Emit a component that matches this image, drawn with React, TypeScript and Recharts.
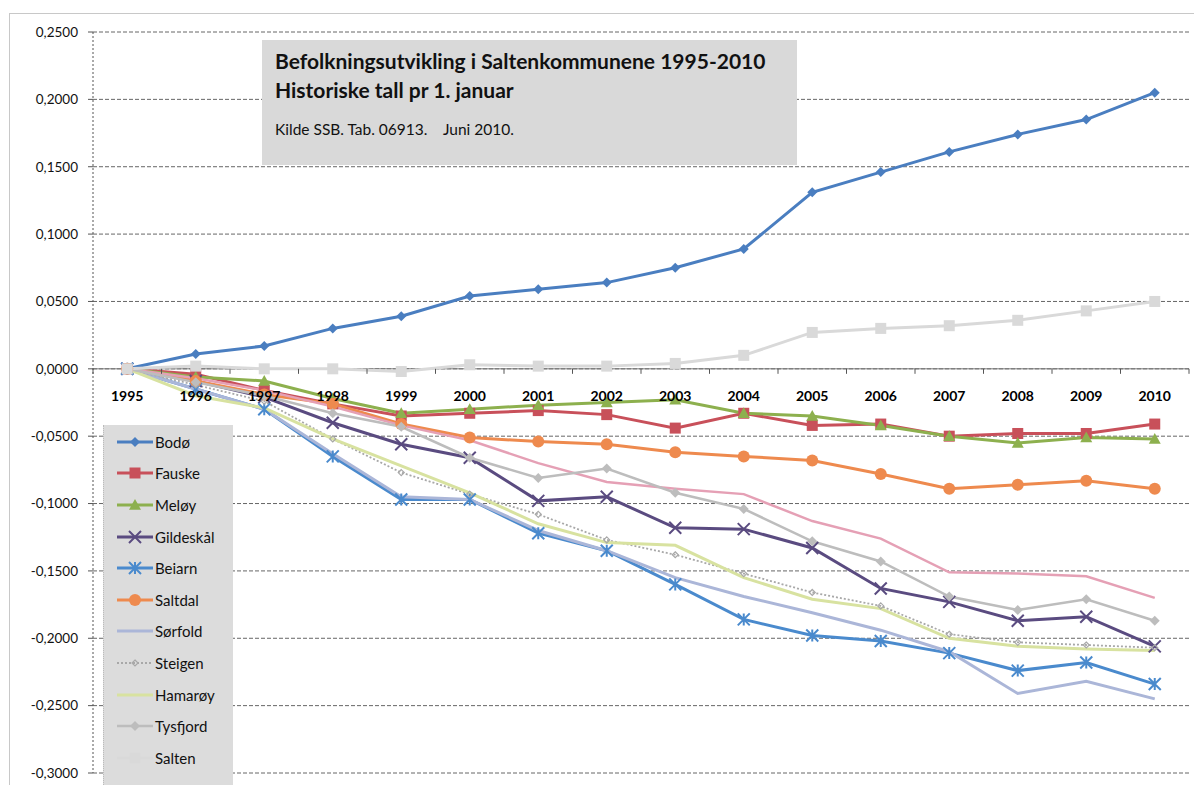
import React from "react";
import { LineChart, Line, XAxis, YAxis, CartesianGrid, ReferenceLine } from "recharts";

const years = ["1995", "1996", "1997", "1998", "1999", "2000", "2001", "2002", "2003", "2004", "2005", "2006", "2007", "2008", "2009", "2010"];

const bodo = [0, 0.011, 0.017, 0.03, 0.039, 0.054, 0.059, 0.064, 0.075, 0.089, 0.131, 0.146, 0.161, 0.174, 0.185, 0.205];
const fauske = [0, -0.004, -0.016, -0.026, -0.035, -0.033, -0.031, -0.034, -0.044, -0.033, -0.042, -0.041, -0.05, -0.048, -0.048, -0.041];
const meloy = [0, -0.006, -0.009, -0.022, -0.033, -0.03, -0.027, -0.025, -0.023, -0.033, -0.035, -0.042, -0.05, -0.055, -0.051, -0.052];
const gildeskal = [0, -0.009, -0.021, -0.04, -0.056, -0.066, -0.098, -0.095, -0.118, -0.119, -0.133, -0.163, -0.173, -0.187, -0.184, -0.206];
const beiarn = [0, -0.015, -0.03, -0.065, -0.097, -0.097, -0.122, -0.135, -0.16, -0.186, -0.198, -0.202, -0.211, -0.224, -0.218, -0.234];
const saltdal = [0, -0.009, -0.019, -0.026, -0.041, -0.051, -0.054, -0.056, -0.062, -0.065, -0.068, -0.078, -0.089, -0.086, -0.083, -0.089];
const sorfold = [0, -0.015, -0.03, -0.063, -0.095, -0.097, -0.12, -0.135, -0.155, -0.169, -0.181, -0.194, -0.21, -0.241, -0.232, -0.245];
const steigen = [0, -0.012, -0.024, -0.052, -0.077, -0.093, -0.108, -0.127, -0.138, -0.152, -0.166, -0.176, -0.197, -0.203, -0.205, -0.207];
const hamaroy = [0, -0.02, -0.029, -0.052, -0.072, -0.092, -0.115, -0.129, -0.131, -0.155, -0.171, -0.178, -0.2, -0.206, -0.208, -0.209];
const tysfjord = [0, -0.01, -0.02, -0.033, -0.043, -0.066, -0.081, -0.074, -0.092, -0.104, -0.128, -0.143, -0.169, -0.179, -0.171, -0.187];
const salten = [0, 0.002, 0, 0, -0.002, 0.003, 0.002, 0.002, 0.004, 0.01, 0.027, 0.03, 0.032, 0.036, 0.043, 0.05];
// pink line in the picture, no entry visible in the legend
const umerket = [0, -0.007, -0.016, -0.028, -0.042, -0.053, -0.07, -0.084, -0.089, -0.093, -0.113, -0.126, -0.151, -0.152, -0.154, -0.17];

const yTicks = [-0.3, -0.25, -0.2, -0.15, -0.1, -0.05, 0, 0.05, 0.1, 0.15, 0.2, 0.25];

const series = [
  { key: "bodo", name: "Bodø", values: bodo, color: "#4a7ec0", width: 3, marker: "diamond", size: 5 },
  { key: "fauske", name: "Fauske", values: fauske, color: "#c8505a", width: 3, marker: "square", size: 5.5 },
  { key: "meloy", name: "Meløy", values: meloy, color: "#8db04e", width: 3, marker: "triangle", size: 6 },
  { key: "gildeskal", name: "Gildeskål", values: gildeskal, color: "#5a4b80", width: 3, marker: "x", size: 6 },
  { key: "beiarn", name: "Beiarn", values: beiarn, color: "#4a8acd", width: 3, marker: "star", size: 6 },
  { key: "saltdal", name: "Saltdal", values: saltdal, color: "#ee8a4e", width: 3, marker: "circle", size: 6 },
  { key: "sorfold", name: "Sørfold", values: sorfold, color: "#abb6d8", width: 3, marker: "none", size: 0 },
  { key: "steigen", name: "Steigen", values: steigen, color: "#a8a8a8", width: 1.8, dash: "2 2", marker: "smalldiamond", size: 3 },
  { key: "hamaroy", name: "Hamarøy", values: hamaroy, color: "#d8e2a0", width: 3, marker: "none", size: 0 },
  { key: "tysfjord", name: "Tysfjord", values: tysfjord, color: "#bdbdbd", width: 2.5, marker: "diamond", size: 5 },
  { key: "salten", name: "Salten", values: salten, color: "#d9d9d9", width: 3, marker: "square", size: 5.5 },
];
const extraLine = { key: "umerket", name: "", values: umerket, color: "#e5a0b5", width: 2.5, marker: "none", size: 0 };

const data = years.map((year, i) => {
  const row: any = { year };
  [...series, extraLine].forEach((s) => (row[s.key] = s.values[i]));
  return row;
});

const W = 1194;
const H = 785;
const TOP = 32;
const AXIS_H = 12;
const LEFT = 93;
const RIGHT = 5;
const PLOT_H = H - TOP - AXIS_H;
const ZERO_Y = TOP + (PLOT_H * 0.25) / 0.55;
const STEP = (W - LEFT - RIGHT) / years.length;
const FONT = "Lato, 'Open Sans', sans-serif";

const Marker = ({ shape, cx, cy, color, size }: any) => {
  const s = size;
  switch (shape) {
    case "diamond":
      return <polygon points={`${cx},${cy - s} ${cx + s},${cy} ${cx},${cy + s} ${cx - s},${cy}`} fill={color} />;
    case "smalldiamond":
      return <polygon points={`${cx},${cy - s} ${cx + s},${cy} ${cx},${cy + s} ${cx - s},${cy}`} fill="none" stroke={color} strokeWidth={1.2} />;
    case "square":
      return <rect x={cx - s} y={cy - s} width={2 * s} height={2 * s} fill={color} />;
    case "triangle":
      return <polygon points={`${cx},${cy - s} ${cx + s},${cy + s * 0.8} ${cx - s},${cy + s * 0.8}`} fill={color} />;
    case "circle":
      return <circle cx={cx} cy={cy} r={s} fill={color} />;
    case "x":
      return <path d={`M${cx - s},${cy - s}L${cx + s},${cy + s}M${cx - s},${cy + s}L${cx + s},${cy - s}`} stroke={color} strokeWidth={2} fill="none" />;
    case "star":
      return <path d={`M${cx - s},${cy - s}L${cx + s},${cy + s}M${cx - s},${cy + s}L${cx + s},${cy - s}M${cx},${cy - s}L${cx},${cy + s}`} stroke={color} strokeWidth={2} fill="none" />;
    default:
      return null;
  }
};

const makeDot = (s: any) => {
  if (s.marker === "none") return false;
  return (p: any) => (
    <g key={`${s.key}-${p.index}`}>
      {p.cx != null && p.cy != null ? <Marker shape={s.marker} cx={p.cx} cy={p.cy} color={s.color} size={s.size} /> : null}
    </g>
  );
};

const YearTick = (props: any) => {
  const { x, payload, index } = props;
  const bx = x - STEP / 2;
  return (
    <g>
      <line x1={bx} x2={bx} y1={ZERO_Y} y2={ZERO_Y + 5} stroke="#555" strokeWidth={1} />
      {index === years.length - 1 ? <line x1={x + STEP / 2} x2={x + STEP / 2} y1={ZERO_Y} y2={ZERO_Y + 5} stroke="#555" /> : null}
      <text x={x} y={ZERO_Y + 32} textAnchor="middle" fontFamily={FONT} fontWeight={700} fontSize={14} fill="#000">
        {payload.value}
      </text>
    </g>
  );
};

const LegendBox = () => (
  <div
    style={{
      position: "absolute",
      left: 103,
      top: 425,
      width: 130,
      height: 362,
      background: "#dcdcdc",
      paddingTop: 1,
      boxSizing: "border-box",
      borderLeft: "1px dotted #bbb",
    }}
  >
    {series.map((s: any) => (
      <div key={s.key} style={{ display: "flex", alignItems: "center", height: 31.6, fontFamily: FONT, fontSize: 15, color: "#111" }}>
        <svg width={36} height={16} style={{ marginLeft: 13, marginRight: 2 }}>
          <line x1={0} x2={36} y1={8} y2={8} stroke={s.color} strokeWidth={s.width} strokeDasharray={s.dash} />
          <Marker shape={s.marker} cx={18} cy={8} color={s.color} size={s.size} />
        </svg>
        <span>{s.name}</span>
      </div>
    ))}
  </div>
);

const App = () => {
  return (
    <div style={{ position: "absolute", left: 0, top: 0, width: W, height: H, background: "#fff", overflow: "hidden" }}>
      <div style={{ position: "absolute", left: 9, top: 13, width: W, height: H, border: "1px solid #c8c8c8" }} />
      <LineChart width={W} height={H} data={data} margin={{ top: TOP, right: RIGHT, left: 0, bottom: 0 }}>
        <CartesianGrid vertical={false} stroke="#666" strokeDasharray="4 2" />
        <XAxis
          dataKey="year"
          height={AXIS_H}
          axisLine={false}
          tickLine={false}
          tick={<YearTick />}
          interval={0}
          padding={{ left: STEP / 2, right: STEP / 2 }}
        />
        <YAxis
          width={LEFT}
          domain={[-0.3, 0.25]}
          ticks={yTicks}
          tickSize={5}
          tickMargin={10}
          stroke="#555"
          axisLine={{ stroke: "#555", strokeDasharray: "2 2" }}
          tick={{ fill: "#111", fontSize: 13.5, fontFamily: FONT }}
          tickFormatter={(v: number) => v.toFixed(4).replace(".", ",")}
        />
        <ReferenceLine y={0} stroke="#777" strokeWidth={1} />
        {[...series.slice(0, 7), extraLine, ...series.slice(7)].map((s: any) => (
          <Line
            key={s.key}
            dataKey={s.key}
            name={s.name}
            type="linear"
            stroke={s.color}
            strokeWidth={s.width}
            strokeDasharray={s.dash}
            dot={makeDot(s)}
            activeDot={false}
            legendType="none"
            isAnimationActive={false}
          />
        ))}
      </LineChart>
      <LegendBox />
      <div
        style={{
          position: "absolute",
          left: 262,
          top: 40,
          width: 535,
          height: 125,
          background: "#d9d9d9",
          fontFamily: FONT,
          color: "#111",
          boxSizing: "border-box",
          padding: "6px 0 0 13px",
        }}
      >
        <div style={{ fontSize: 21, fontWeight: 700, lineHeight: "29px" }}>Befolkningsutvikling i Saltenkommunene 1995-2010</div>
        <div style={{ fontSize: 21, fontWeight: 700, lineHeight: "29px" }}>Historiske tall pr 1. januar</div>
        <div style={{ fontSize: 15.5, marginTop: 16, whiteSpace: "pre" }}>{"Kilde SSB. Tab. 06913.    Juni 2010."}</div>
      </div>
    </div>
  );
};

export default App;
